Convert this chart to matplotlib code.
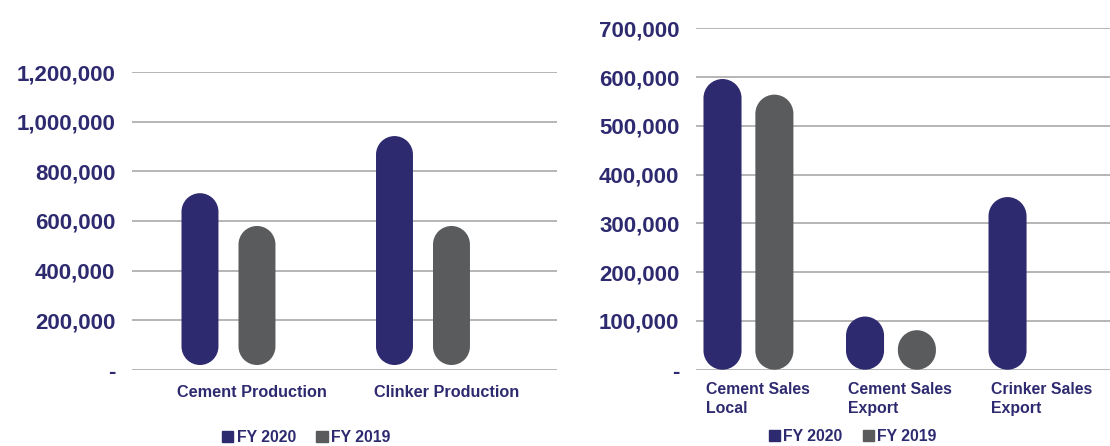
import numpy as np
import matplotlib
matplotlib.use("Agg")
import matplotlib.pyplot as plt
from matplotlib.path import Path
from matplotlib.patches import PathPatch, Patch
from matplotlib.transforms import IdentityTransform, blended_transform_factory
from matplotlib.ticker import FuncFormatter

plt.rcParams['font.family'] = ['Liberation Sans', 'DejaVu Sans']
plt.rcParams['font.weight'] = 'bold'

# data
prod_cats = ["Cement Production", "Clinker Production"]
prod_fy2020 = [712000, 942000]
prod_fy2019 = [580000, 580000]

sales_cats = ["Cement Sales\nLocal", "Cement Sales\nExport", "Crinker Sales\nExport"]
sales_fy2020 = [596000, 109000, 354000]
sales_fy2019 = [564000, 81000, 0]

series_names = ["FY 2020", "FY 2019"]

NAVY = '#2e2a70'
GREY = '#5a5b5d'
GRID = '#a2a2a2'
W, H = 1110, 446


def pill(ax, rect, color, gap_px=0):
    # turn a bar rectangle into a rounded "pill" drawn in pixel space
    x0, y0 = rect.get_x(), rect.get_y()
    x1, y1 = x0 + rect.get_width(), y0 + rect.get_height()
    if rect.get_height() <= 0:
        return
    (px0, py0), (px1, py1) = ax.transData.transform([(x0, y0), (x1, y1)])
    py0 += gap_px
    r = (px1 - px0) / 2
    cx = (px0 + px1) / 2
    cyt, cyb = py1 - r, py0 + r
    if cyt < cyb:
        cyt = cyb = (py0 + py1) / 2
    top = Path.arc(0, 180)
    bot = Path.arc(180, 360)
    vt = top.vertices * r + [cx, cyt]
    vb = bot.vertices * r + [cx, cyb]
    cb = bot.codes.copy()
    cb[0] = Path.LINETO
    verts = np.vstack([vt, vb, vt[:1]])
    codes = np.concatenate([top.codes, cb, [Path.CLOSEPOLY]])
    ax.add_patch(PathPatch(Path(verts, codes), transform=IdentityTransform(),
                           facecolor=color, edgecolor='none', clip_on=False))


def style(ax, ymax, step):
    ax.set_ylim(0, ymax)
    ax.set_yticks(np.arange(0, ymax + 1, step))
    ax.yaxis.set_major_formatter(FuncFormatter(lambda v, p: '-' if v == 0 else f'{v:,.0f}'))
    ax.tick_params(axis='y', length=0, pad=12, labelsize=16, labelcolor=NAVY)
    ax.tick_params(axis='x', length=0, bottom=False, labelbottom=False)
    for s in ax.spines.values():
        s.set_visible(False)
    ax.grid(axis='y', color=GRID, lw=1.1)
    ax.set_axisbelow(True)


fig = plt.figure(figsize=(W / 100, H / 100), dpi=100)

# left panel: production
ax1 = fig.add_axes([132 / W, (H - 370) / H, 425 / W, 298 / H])
style(ax1, 1200000, 200000)
ax1.set_xlim(-0.496, 1.689)
g1 = np.arange(len(prod_cats))
d1, w1 = 0.1465, 0.19
b1 = ax1.bar(g1 - d1, prod_fy2020, w1, visible=False)
b2 = ax1.bar(g1 + d1, prod_fy2019, w1, visible=False)
for r in b1:
    pill(ax1, r, NAVY, gap_px=5)
for r in b2:
    pill(ax1, r, GREY, gap_px=5)
tr1 = blended_transform_factory(ax1.transData, ax1.transAxes)
for g, lab in zip(g1, prod_cats):
    ax1.text(g + 0.12, -0.05, lab, transform=tr1, ha='center', va='top',
             fontsize=11.7, color=NAVY)

# right panel: sales
ax2 = fig.add_axes([696 / W, (H - 369.7) / H, 414 / W, 341.4 / H])
style(ax2, 700000, 100000)
ax2.set_xlim(-0.368, 2.537)
g2 = np.arange(len(sales_cats))
d2, w2 = 0.182, 0.267
b3 = ax2.bar(g2 - d2, sales_fy2020, w2, visible=False)
b4 = ax2.bar(g2 + d2, sales_fy2019, w2, visible=False)
for r in b3:
    pill(ax2, r, NAVY)
for r in b4:
    pill(ax2, r, GREY)
tr2 = blended_transform_factory(ax2.transData, ax2.transAxes)
for g, lab in zip(g2, sales_cats):
    ax2.text(g - 0.3, -0.035, lab, transform=tr2, ha='left', va='top',
             fontsize=11.4, color=NAVY, linespacing=1.4)

handles = [Patch(color=NAVY), Patch(color=GREY)]
for ax, anchor in [(ax1, (0.41, -0.228)), (ax2, (0.378, -0.197))]:
    leg = ax.legend(handles, series_names, loc='center', bbox_to_anchor=anchor,
                    ncol=2, frameon=False, fontsize=11.4, handlelength=0.7,
                    handleheight=0.7, handletextpad=0.2, columnspacing=1.3,
                    borderpad=0, borderaxespad=0)
    for t in leg.get_texts():
        t.set_color(NAVY)

fig.savefig('out.png', dpi=100)
